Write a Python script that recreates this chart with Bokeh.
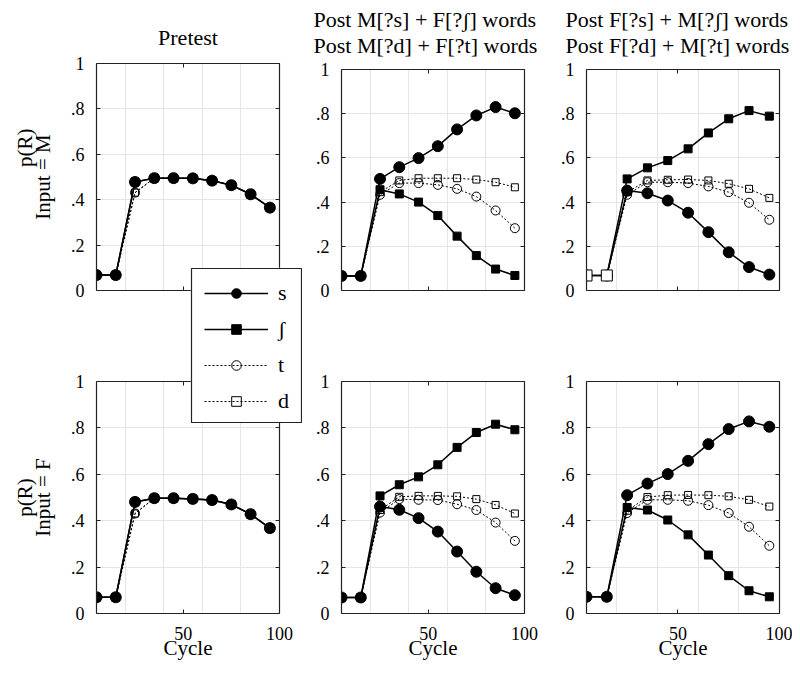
from bokeh.plotting import figure
from bokeh.models import Range1d, LinearAxis, FixedTicker, Legend, LegendItem, Title
from bokeh.layouts import row, column
from bokeh.embed import file_html
from bokeh.resources import INLINE

FONT = "Liberation Serif"

# ---------------- data ----------------
cycles = [5, 15, 25, 35, 45, 55, 65, 75, 85, 95]
x_ticks = [50, 100]
x_tick_labels = ["50", "100"]
y_ticks = [0, 0.2, 0.4, 0.6, 0.8, 1.0]
y_tick_labels = ["0", ".2", ".4", ".6", ".8", "1"]
legend_labels = ["s", "ʃ", "t", "d"]
col_titles = [["Pretest"],
              ["Post M[?s] + F[?ʃ] words", "Post M[?d] + F[?t] words"],
              ["Post F[?s] + M[?ʃ] words", "Post F[?d] + M[?t] words"]]
y_label_top = "p(R)"
row_labels = ["Input = M", "Input = F"]
x_label = "Cycle"

# Pretest, input M
pre_M_s = [0.068, 0.068, 0.478, 0.495, 0.495, 0.494, 0.484, 0.464, 0.424, 0.365]
pre_M_sh = [0.068, 0.068, 0.478, 0.495, 0.495, 0.494, 0.484, 0.464, 0.424, 0.365]
pre_M_t = [0.068, 0.068, 0.431, 0.495, 0.495, 0.494, 0.484, 0.464, 0.424, 0.365]
pre_M_d = [0.068, 0.068, 0.431, 0.495, 0.495, 0.494, 0.484, 0.464, 0.424, 0.365]
# Post M[?s]+F[?ʃ], input M
msf_M_s = [0.066, 0.066, 0.505, 0.558, 0.599, 0.653, 0.729, 0.792, 0.830, 0.802]
msf_M_sh = [0.066, 0.066, 0.456, 0.437, 0.400, 0.339, 0.246, 0.158, 0.097, 0.068]
msf_M_t = [0.066, 0.066, 0.433, 0.486, 0.486, 0.478, 0.460, 0.425, 0.362, 0.282]
msf_M_d = [0.066, 0.066, 0.445, 0.498, 0.508, 0.508, 0.508, 0.502, 0.490, 0.467]
# Post F[?s]+M[?ʃ], input M
fsm_M_s = [0.068, 0.068, 0.452, 0.440, 0.407, 0.352, 0.264, 0.173, 0.106, 0.072]
fsm_M_sh = [0.068, 0.068, 0.505, 0.555, 0.588, 0.641, 0.713, 0.777, 0.814, 0.789]
fsm_M_t = [0.068, 0.068, 0.433, 0.490, 0.490, 0.486, 0.471, 0.445, 0.397, 0.320]
fsm_M_d = [0.068, 0.068, 0.445, 0.498, 0.501, 0.502, 0.498, 0.483, 0.460, 0.419]
# Pretest, input F
pre_F_s = [0.070, 0.070, 0.481, 0.497, 0.497, 0.494, 0.489, 0.470, 0.428, 0.368]
pre_F_sh = [0.070, 0.070, 0.481, 0.497, 0.497, 0.494, 0.489, 0.470, 0.428, 0.368]
pre_F_t = [0.070, 0.070, 0.431, 0.497, 0.497, 0.494, 0.489, 0.470, 0.428, 0.368]
pre_F_d = [0.070, 0.070, 0.431, 0.497, 0.497, 0.494, 0.489, 0.470, 0.428, 0.368]
# Post M[?s]+F[?ʃ], input F
msf_F_s = [0.069, 0.069, 0.461, 0.447, 0.411, 0.353, 0.267, 0.180, 0.109, 0.079]
msf_F_sh = [0.069, 0.069, 0.507, 0.555, 0.589, 0.641, 0.716, 0.780, 0.816, 0.792]
msf_F_t = [0.069, 0.069, 0.435, 0.493, 0.490, 0.489, 0.471, 0.446, 0.392, 0.313]
msf_F_d = [0.069, 0.069, 0.446, 0.503, 0.507, 0.507, 0.505, 0.493, 0.468, 0.431]
# Post F[?s]+M[?ʃ], input F
fsm_F_s = [0.072, 0.072, 0.510, 0.560, 0.601, 0.658, 0.730, 0.795, 0.828, 0.805]
fsm_F_sh = [0.072, 0.072, 0.457, 0.446, 0.403, 0.339, 0.252, 0.163, 0.098, 0.072]
fsm_F_t = [0.072, 0.072, 0.433, 0.490, 0.490, 0.486, 0.467, 0.433, 0.374, 0.292]
fsm_F_d = [0.072, 0.072, 0.443, 0.502, 0.510, 0.511, 0.510, 0.505, 0.490, 0.461]

panel_data = [
    [[pre_M_s, pre_M_sh, pre_M_t, pre_M_d],
     [msf_M_s, msf_M_sh, msf_M_t, msf_M_d],
     [fsm_M_s, fsm_M_sh, fsm_M_t, fsm_M_d]],
    [[pre_F_s, pre_F_sh, pre_F_t, pre_F_d],
     [msf_F_s, msf_F_sh, msf_F_t, msf_F_d],
     [fsm_F_s, fsm_F_sh, fsm_F_t, fsm_F_d]],
]

# ---------------- styles / layout ----------------
STYLES = [
    dict(marker="circle", size=11, fill="black", dash="solid", lw=1.5),
    dict(marker="square", size=8, fill="black", dash="solid", lw=1.5),
    dict(marker="circle", size=9, fill=None, dash="2 2", lw=1.0),
    dict(marker="square", size=7, fill=None, dash="2 2", lw=1.0),
]
DRAW_ORDER = [3, 2, 1, 0]

PANEL_W = [305, 240, 247]
BORDER_L = [96, 36, 41]
BORDER_R = [26, 21, 13]
ROW_H = [335, 332]
BORDER_T = [[63, 69, 69], [46, 46, 46]]
BORDER_B = [[45, 45, 45], [54, 54, 54]]
TITLE_ALIGN = ["center", "left", "left"]
TITLE_OFFSET = [0, -28, -21]
AXIS_COLOR = "#222222"


def style_axis(ax, ticks, labels, show_labels):
    ax.ticker = FixedTicker(ticks=ticks)
    ax.major_label_overrides = {t: l for t, l in zip(ticks, labels)}
    ax.axis_line_color = AXIS_COLOR
    ax.axis_line_width = 1.2
    ax.major_tick_line_color = AXIS_COLOR
    ax.major_tick_line_width = 1
    ax.major_tick_in = 4
    ax.major_tick_out = 0
    ax.minor_tick_line_color = None
    ax.major_label_text_font = FONT
    ax.major_label_text_color = "black"
    if show_labels:
        ax.major_label_text_font_size = "18px"
    else:
        ax.major_label_text_font_size = "0px"
        ax.major_label_standoff = 0


def add_series(p, series):
    line_rs, scat_rs = [None] * 4, [None] * 4
    for k in DRAW_ORDER:
        st = STYLES[k]
        line_rs[k] = p.line(cycles, series[k], line_color="black", line_width=st["lw"],
                            line_dash=st["dash"])
        scat_rs[k] = p.scatter(cycles, series[k], marker=st["marker"], size=st["size"],
                               fill_color=st["fill"], line_color="black", line_width=1)
    return line_rs, scat_rs


figs = []
for r in range(2):
    row_figs = []
    for c in range(3):
        W, H = PANEL_W[c], ROW_H[r]
        p = figure(width=W, height=H, x_range=Range1d(5, 100), y_range=Range1d(0, 1),
                   x_axis_location=None, y_axis_location=None,
                   output_backend="svg", toolbar_location=None,
                   min_border_left=BORDER_L[c], min_border_right=BORDER_R[c],
                   min_border_top=BORDER_T[r][c], min_border_bottom=BORDER_B[r][c])
        try:
            p.frame_align = False
        except Exception:
            pass
        p.outline_line_color = None
        p.background_fill_color = "white"
        p.border_fill_color = "white"

        left = LinearAxis()
        style_axis(left, y_ticks, y_tick_labels, True)
        left.major_label_standoff = 12
        right = LinearAxis()
        style_axis(right, y_ticks, y_tick_labels, False)
        above = LinearAxis()
        style_axis(above, x_ticks, x_tick_labels, False)
        below = LinearAxis()
        style_axis(below, x_ticks, x_tick_labels, r == 1)
        if r == 1:
            below.major_label_standoff = 13
            below.axis_label = x_label
            below.axis_label_text_font = FONT
            below.axis_label_text_font_size = "21px"
            below.axis_label_text_font_style = "normal"
            below.axis_label_text_color = "black"
            below.axis_label_standoff = -7
        if c == 0:
            left.axis_label = row_labels[r]
            left.axis_label_text_font = FONT
            left.axis_label_text_font_size = "21px"
            left.axis_label_text_font_style = "normal"
            left.axis_label_text_color = "black"
            left.axis_label_standoff = 13
        p.add_layout(left, "left")
        p.add_layout(right, "right")
        p.add_layout(above, "above")
        p.add_layout(below, "below")

        if c == 0:
            p.add_layout(Title(text=y_label_top, align="right" if r == 0 else "center",
                               offset=65 if r == 0 else 0, standoff=-19,
                               text_font=FONT, text_font_size="21px",
                               text_font_style="normal", text_color="black"), "left")

        if r == 0:
            lines = col_titles[c]
            standoffs = [28] if len(lines) == 1 else [-25, 23]
            for line_text, so in reversed(list(zip(lines, standoffs))):
                p.add_layout(Title(text=line_text, align=TITLE_ALIGN[c], offset=TITLE_OFFSET[c],
                                   standoff=so, text_font=FONT, text_font_size="22px",
                                   text_font_style="normal", text_color="black"), "above")

        line_rs, scat_rs = add_series(p, panel_data[r][c])
        if r == 0 and c == 2:
            # in this panel the open squares of the first two cycles sit on top
            p.scatter(cycles[:2], panel_data[r][c][3][:2], marker="square", size=11,
                      fill_color="white", line_color="black", line_width=1)
        row_figs.append(p)
    figs.append(row_figs)

layout = column(row(*figs[0], spacing=0), row(*figs[1], spacing=0), spacing=0)

# ---- legend: its own small plot laid over the two left panels ----
leg_fig = figure(width=112, height=156, x_range=Range1d(5, 100), y_range=Range1d(2, 3),
                 x_axis_location=None, y_axis_location=None,
                 output_backend="svg", toolbar_location=None, min_border=1,
                 styles={"position": "absolute", "left": "190px", "top": "267px",
                         "z-index": "10"})
leg_fig.outline_line_color = AXIS_COLOR
leg_fig.outline_line_width = 1.2
leg_fig.background_fill_color = "white"
leg_fig.border_fill_color = "white"
leg_fig.grid.visible = False
l_rs, s_rs = add_series(leg_fig, panel_data[0][0])
items = [LegendItem(label=legend_labels[k], renderers=[l_rs[k], s_rs[k]]) for k in range(4)]
leg = Legend(items=items, location=(13, 8), margin=0, padding=8, spacing=10,
             glyph_width=64, glyph_height=24, label_height=24, label_standoff=10,
             border_line_color=None, background_fill_alpha=0.0,
             label_text_font=FONT, label_text_font_size="22px", label_text_color="black")
leg_fig.add_layout(leg)

open("out.html", "w").write(file_html([layout, leg_fig], INLINE))
